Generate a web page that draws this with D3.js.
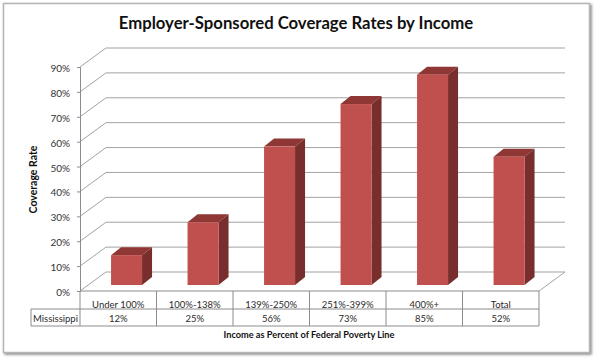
<!DOCTYPE html>
<html>
<head>
<meta charset="utf-8">
<script src="https://cdn.jsdelivr.net/npm/d3@7"></script>
<style>
body{margin:0;background:#fff;}
svg{display:block;}
text{font-family:Lato,"Open Sans",sans-serif;fill:#2b2b2b;}
</style>
</head>
<body>
<svg id="chart" width="596" height="361"></svg>
<script>
const categories = ["Under 100%","100%-138%","139%-250%","251%-399%","400%+","Total"];
const values = [12,25.2,55.6,72.7,84.5,51.5];
const value_labels = ["12%","25%","56%","73%","85%","52%"];
const ticks = [0,10,20,30,40,50,60,70,80,90];
const series_name = "Mississippi";

const svg = d3.select("#chart");

const x0 = 80, x1 = 539, y0 = 291, y90 = 67;
// depth of the 3d floor, and of one bar
const depth = {x:26,y:-19};
const bar_depth = {x:10,y:-8};
const bar_shift = {x:8.3,y:-6};
const grid_color = "#a3a3a3";

const x = d3.scaleBand().domain(categories).range([x0,x1]).paddingInner(0).paddingOuter(0);
const y = d3.scaleLinear().domain([0,90]).range([y0,y90]);
const bar_w = 31;

// frame with soft shadow
const defs = svg.append("defs");
const shadow = defs.append("filter").attr("id","shadow").attr("x","-5%").attr("y","-5%").attr("width","110%").attr("height","110%");
shadow.append("feDropShadow").attr("dx",1.5).attr("dy",1.5).attr("stdDeviation",1.2).attr("flood-color","#555").attr("flood-opacity",0.7);
svg.append("rect")
    .attr("x",3.5).attr("y",3.5).attr("width",586).attr("height",349)
    .attr("fill","#fff").attr("stroke","#b5b5b5").attr("stroke-width",1.5)
    .style("filter","url(#shadow)");

// title
svg.append("text")
    .attr("x",296).attr("y",29)
    .attr("text-anchor","middle")
    .attr("font-size",16.7).attr("font-weight",700).style("fill","#111")
    .text("Employer-Sponsored Coverage Rates by Income");

// back wall gridlines and side wall
const grid = svg.append("g");
grid.selectAll(".back").data(ticks).join("line")
    .attr("class","back")
    .attr("x1",x0+depth.x).attr("x2",x1+depth.x)
    .attr("y1",d=>y(d)+depth.y).attr("y2",d=>y(d)+depth.y)
    .attr("stroke",grid_color).attr("stroke-width",1);
grid.selectAll(".side").data(ticks).join("line")
    .attr("class","side")
    .attr("x1",x0).attr("x2",x0+depth.x)
    .attr("y1",d=>y(d)).attr("y2",d=>y(d)+depth.y)
    .attr("stroke",grid_color).attr("stroke-width",1);
grid.append("line")
    .attr("x1",x1).attr("x2",x1+depth.x)
    .attr("y1",y0).attr("y2",y0+depth.y)
    .attr("stroke",grid_color);

// y axis
const y_axis = svg.append("g")
    .attr("transform",`translate(${x0},0)`)
    .call(d3.axisLeft(y).tickValues(ticks).tickSize(3).tickPadding(7).tickFormat(d=>d+"%"));
y_axis.selectAll("path,line").attr("stroke","#8c8c8c");
y_axis.selectAll("text").attr("font-size",10).attr("dy","0.45em").style("font-family","Lato").style("fill","#333");

// bars
const bars = svg.selectAll(".bar").data(values).join("g").attr("class","bar")
    .attr("transform",(d,i)=>`translate(${x(categories[i])+x.bandwidth()/2-bar_w/2+bar_shift.x},${bar_shift.y})`);
// top face
bars.append("path")
    .attr("fill","#8f3735")
    .attr("d",d=>{
        const t = y(d);
        return `M0,${t}L${bar_depth.x},${t+bar_depth.y}H${bar_w+bar_depth.x}L${bar_w},${t}Z`;
    });
// side face
bars.append("path")
    .attr("fill","#772e2c")
    .attr("d",d=>{
        const t = y(d);
        return `M${bar_w},${t}L${bar_w+bar_depth.x},${t+bar_depth.y}V${y0+bar_depth.y}L${bar_w},${y0}Z`;
    });
// front face
bars.append("rect")
    .attr("fill","#c0504d")
    .attr("x",0).attr("width",bar_w)
    .attr("y",d=>y(d)).attr("height",d=>y0-y(d));

// data table
const row1 = 309, row2 = 326, table_left = 31;
const table = svg.append("g").attr("stroke","#8c8c8c").attr("stroke-width",1);
table.append("line").attr("x1",x0).attr("x2",x1).attr("y1",y0).attr("y2",y0);
table.append("line").attr("x1",table_left).attr("x2",x1).attr("y1",row1).attr("y2",row1);
table.append("line").attr("x1",table_left).attr("x2",x1).attr("y1",row2).attr("y2",row2);
table.append("line").attr("x1",table_left).attr("x2",table_left).attr("y1",row1).attr("y2",row2);
table.selectAll(".cell").data(d3.range(categories.length+1)).join("line")
    .attr("class","cell")
    .attr("x1",i=>x0+i*x.step()).attr("x2",i=>x0+i*x.step())
    .attr("y1",y0).attr("y2",row2);

svg.selectAll(".cat").data(categories).join("text")
    .attr("class","cat")
    .attr("x",d=>x(d)+x.bandwidth()/2).attr("y",308)
    .attr("text-anchor","middle").attr("font-size",9.5)
    .text(d=>d);
svg.selectAll(".val").data(value_labels).join("text")
    .attr("class","val")
    .attr("x",(d,i)=>x(categories[i])+x.bandwidth()/2).attr("y",322)
    .attr("text-anchor","middle").attr("font-size",9.5)
    .text(d=>d);
svg.append("text")
    .attr("x",33).attr("y",322)
    .attr("font-size",9.5)
    .text(series_name);

// axis titles
svg.append("text")
    .attr("x",309).attr("y",338)
    .attr("text-anchor","middle").attr("font-size",9.2).attr("font-weight",700).style("fill","#111")
    .text("Income as Percent of Federal Poverty Line");
svg.append("text")
    .attr("transform","translate(37,179.5) rotate(-90)")
    .attr("text-anchor","middle").attr("font-size",10.5).attr("font-weight",700).style("fill","#111")
    .text("Coverage Rate");
</script>
</body>
</html>
